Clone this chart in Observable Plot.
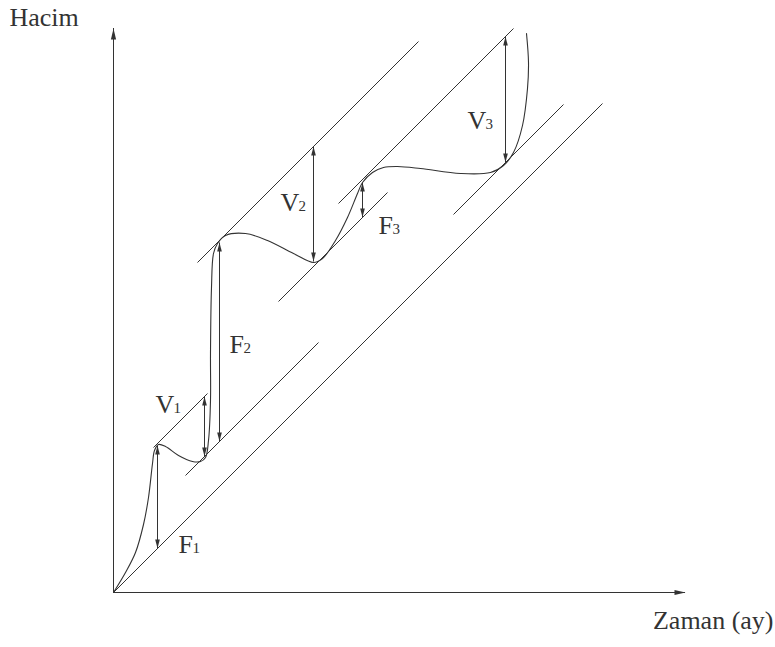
<!DOCTYPE html>
<html>
<head>
<meta charset="utf-8">
<script src="https://cdn.jsdelivr.net/npm/d3@7"></script>
<script src="https://cdn.jsdelivr.net/npm/@observablehq/plot@0.6"></script>
<style>
  html, body { margin: 0; padding: 0; background: #fff; }
  #chart svg { display: block; }
</style>
</head>
<body>
<div id="chart"></div>
<script>
// ---- Data (schematic units: time on x, volume on y) ----
// Parallel guide lines (start / end points)
const guideX1 = [0, 72, 40, 84, 165, 225, 340];
const guideY1 = [0, 117, 145, 330, 291, 389, 378];
const guideX2 = [489, 205, 94, 305, 274, 400, 450];
const guideY2 = [489, 250, 199, 551, 400, 564, 488];

// Cumulative volume curve (Hacim)
const curveX = [0, 12, 22, 30, 35, 39, 41, 45, 52, 65, 79, 87, 92, 95, 97, 97, 98, 100, 104, 112, 132, 154, 180, 200, 209, 222, 234, 244, 249, 259, 270, 284, 307, 347, 377, 390, 400, 409, 414, 415, 413];
const curveY = [0, 20, 40, 68, 95, 129, 142, 148, 146, 137, 131, 131, 135, 152, 192, 239, 305, 339, 349, 357, 359, 352, 339, 330, 334, 352, 375, 399, 410, 420, 425, 426, 424, 419, 420, 427, 440, 467, 504, 530, 559];

// Double-headed dimension arrows F1, V1, F2, V2, F3, V3
const arrowX    = [44, 91, 106, 200, 249, 392];
const arrowLow  = [44, 136, 151, 331, 375, 430];
const arrowHigh = [147, 196, 350, 446, 410, 556];

// Labels
const labelLetter = ["F", "V", "F", "V", "F", "V"];
const labelDigit  = ["1", "1", "2", "2", "3", "3"];
const labelX      = [65, 42, 116, 167, 265, 354];
const labelY      = [40, 180, 240, 382, 359, 464];

// Axes
const axisXmax = 572;
const axisYmax = 564;
const yTitle = "Hacim";
const xTitle = "Zaman (ay)";

// ---- Drawing ----
const ink = "#333";
function head(dir, len, half) {
  return {
    draw(ctx) {
      if (dir === "up") { ctx.moveTo(0, 0); ctx.lineTo(-half, len); ctx.lineTo(half, len); }
      else if (dir === "down") { ctx.moveTo(0, 0); ctx.lineTo(-half, -len); ctx.lineTo(half, -len); }
      else { ctx.moveTo(0, 0); ctx.lineTo(-len, -half); ctx.lineTo(-len, half); }
      ctx.closePath();
    }
  };
}

const guides = guideX1.map((x1, i) => ({x1, y1: guideY1[i], x2: guideX2[i], y2: guideY2[i]}));
const curve = curveX.map((x, i) => ({x, y: curveY[i]}));
const arrows = arrowX.map((x, i) => ({x, lo: arrowLow[i], hi: arrowHigh[i]}));
const labels = labelLetter.map((l, i) => ({l, d: labelDigit[i], x: labelX[i], y: labelY[i]}));

const chart = Plot.plot({
  width: 775,
  height: 647,
  marginLeft: 113,
  marginRight: 0,
  marginTop: 0,
  marginBottom: 55,
  x: {domain: [0, 662], axis: null},
  y: {domain: [0, 592], axis: null},
  style: {fontFamily: '"Liberation Serif", "Times New Roman", serif', background: "#fff", color: ink},
  marks: [
    // axes
    Plot.ruleX([0], {y1: 0, y2: axisYmax, stroke: ink, strokeWidth: 1}),
    Plot.ruleY([0], {x1: 0, x2: axisXmax, stroke: ink, strokeWidth: 1}),
    Plot.dot([{x: 0, y: axisYmax}], {x: "x", y: "y", symbol: head("up", 11, 2.6), fill: ink, stroke: "none"}),
    Plot.dot([{x: axisXmax, y: 0}], {x: "x", y: "y", symbol: head("right", 11, 2.6), fill: ink, stroke: "none"}),
    // guide lines
    Plot.link(guides, {x1: "x1", y1: "y1", x2: "x2", y2: "y2", stroke: ink, strokeWidth: 1}),
    // curve
    Plot.line(curve, {x: "x", y: "y", curve: "catmull-rom", stroke: ink, strokeWidth: 1.1}),
    // arrows
    Plot.link(arrows, {x1: "x", x2: "x", y1: "lo", y2: "hi", stroke: ink, strokeWidth: 1}),
    Plot.dot(arrows, {x: "x", y: "hi", symbol: head("up", 9, 2.3), fill: ink, stroke: "none"}),
    Plot.dot(arrows, {x: "x", y: "lo", symbol: head("down", 9, 2.3), fill: ink, stroke: "none"}),
    // labels
    Plot.text(labels, {x: "x", y: "y", text: "l", textAnchor: "start", lineAnchor: "bottom", fontSize: 26, fill: ink}),
    Plot.text(labels, {x: (d) => d.x + (d.l === "V" ? 18 : 14), y: "y", text: "d", textAnchor: "start", lineAnchor: "bottom", fontSize: 15, fill: ink}),
    // axis titles
    Plot.text([yTitle], {x: -104, y: 567, text: (d) => d, textAnchor: "start", lineAnchor: "bottom", fontSize: 26, fill: ink}),
    Plot.text([xTitle], {x: 660, y: -36, text: (d) => d, textAnchor: "end", lineAnchor: "bottom", fontSize: 26, fill: ink})
  ]
});
document.getElementById("chart").appendChild(chart);
</script>
</body>
</html>
